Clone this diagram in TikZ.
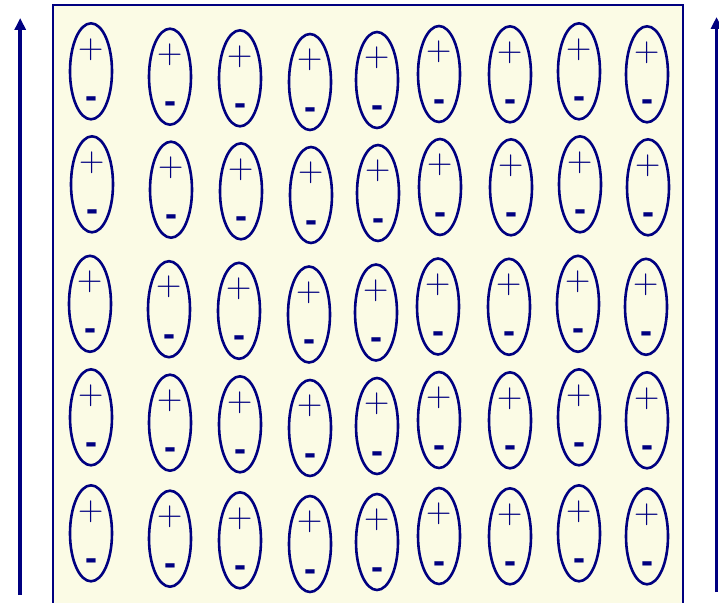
\documentclass[tikz,border=0pt]{standalone}
\usepackage{fontspec}
\newfontfamily\dejavu{DejaVu Sans}
\usetikzlibrary{arrows.meta,shapes.geometric}
\definecolor{navy}{RGB}{0,0,128}
\definecolor{cream}{RGB}{251,251,229}
\begin{document}
\begin{tikzpicture}[x=1pt,y=-1pt,
  dipole/.style={draw=navy, line width=2.6pt, ellipse, minimum width=42pt, minimum height=96pt, inner sep=0pt},
  plussign/.style={text=navy, inner sep=0pt, font=\fontsize{35}{35}\selectfont},
  minussign/.style={text=navy, inner sep=0pt, anchor=base, font=\dejavu\bfseries\fontsize{30}{30}\selectfont},
  plate/.style={draw=navy, line width=2pt, fill=cream},
  field/.style={navy, line width=3.7pt, -{Triangle[length=12pt,width=11pt]}}]
\useasboundingbox (0,0) rectangle (719,602);
\clip (0,0) rectangle (719,602);
\draw[plate] (53,5) rectangle (683,620);
\foreach \c/\x/\y in {1/91/71.3, 2/170/76.7, 3/240/78.3, 4/310/82, 5/377/80, 6/439/74, 7/510/74.3, 8/579/71.3, 9/647/74.3} {
  \foreach \r/\dx/\dy in {1/0/0, 2/1/113, 3/-1/232.5, 4/0/346, 5/0/462} {
    \node[dipole] (e\r\c) at (\x+\dx, \y+\dy) {};
    \node[plussign] (p\r\c) at (\x+\dx, \y+\dy-22) {+};
    \node[minussign] (m\r\c) at (\x+\dx, \y+\dy+36) {-};
  }
}
\coordinate (la0) at (20.2,595);
\coordinate (la1) at (20.2,18);
\coordinate (ra0) at (716.5,592);
\coordinate (ra1) at (716.5,17);
\draw[field] (la0) -- (la1);
\draw[field] (ra0) -- (ra1);
\end{tikzpicture}
\end{document}
